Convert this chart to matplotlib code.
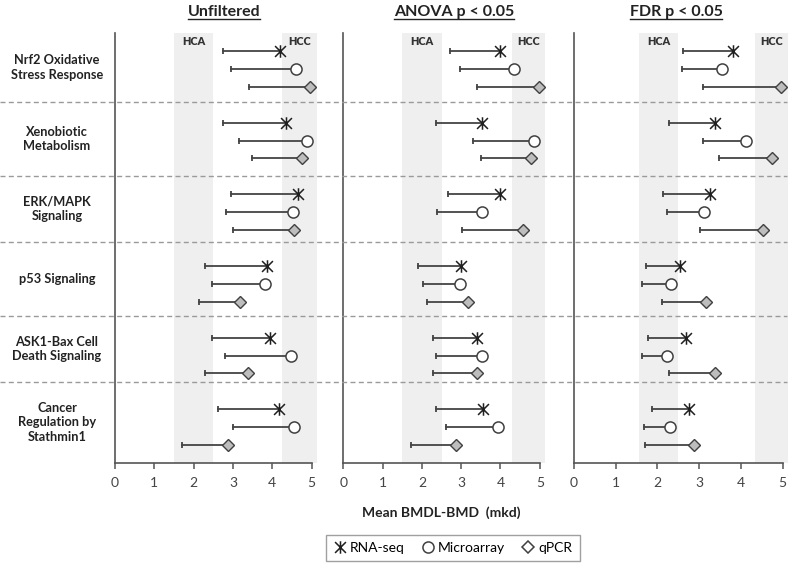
import matplotlib
matplotlib.use('Agg')
import matplotlib.pyplot as plt
import matplotlib.transforms as mtransforms
from matplotlib.lines import Line2D
from matplotlib.path import Path

plt.rcParams['font.family'] = ['Lato', 'DejaVu Sans']

pathways = ['Nrf2 Oxidative\nStress Response', 'Xenobiotic\nMetabolism', 'ERK/MAPK\nSignaling',
            'p53 Signaling', 'ASK1-Bax Cell\nDeath Signaling', 'Cancer\nRegulation by\nStathmin1']
panels = ['Unfiltered', 'ANOVA p < 0.05', 'FDR p < 0.05']
platforms = ['RNA-seq', 'Microarray', 'qPCR']
xticks = [0, 1, 2, 3, 4, 5]

# mean BMDL (start of line), rows = pathways, cols = RNA-seq, Microarray, qPCR
unf_bmdl = [[2.74, 2.95, 3.41], [2.75, 3.16, 3.49], [2.95, 2.82, 3.00],
            [2.29, 2.47, 2.13], [2.47, 2.80, 2.29], [2.63, 2.99, 1.71]]
unf_bmd = [[4.20, 4.60, 4.96], [4.35, 4.88, 4.76], [4.66, 4.53, 4.54],
           [3.86, 3.82, 3.18], [3.93, 4.47, 3.39], [4.18, 4.56, 2.88]]
anova_bmdl = [[2.72, 2.96, 3.41], [2.35, 3.31, 3.50], [2.66, 2.38, 3.02],
              [1.89, 2.02, 2.14], [2.29, 2.36, 2.29], [2.36, 2.61, 1.71]]
anova_bmd = [[3.99, 4.34, 4.98], [3.53, 4.85, 4.77], [3.99, 3.53, 4.56],
             [3.00, 2.98, 3.18], [3.39, 3.52, 3.39], [3.56, 3.94, 2.88]]
fdr_bmdl = [[2.61, 2.58, 3.09], [2.29, 3.09, 3.47], [2.13, 2.23, 3.02],
            [1.73, 1.64, 2.11], [1.78, 1.64, 2.29], [1.87, 1.69, 1.71]]
fdr_bmd = [[3.81, 3.55, 4.96], [3.38, 4.12, 4.76], [3.25, 3.12, 4.54],
           [2.53, 2.33, 3.17], [2.69, 2.24, 3.39], [2.76, 2.30, 2.88]]

hca_band = [[1.5, 2.5], [1.5, 2.5], [1.55, 2.5]]
hcc_band = [[4.25, 5.13], [4.28, 5.13], [4.34, 5.13]]

bmdl_all = [unf_bmdl, anova_bmdl, fdr_bmdl]
bmd_all = [unf_bmd, anova_bmd, fdr_bmd]

W, H = 794, 564
fig = plt.figure(figsize=(W / 100, H / 100), dpi=100)

# axes in pixels: left, px per unit
ax_left = [114.7, 343.3, 574.0]
ax_scale = [39.4, 39.3, 41.7]
xmax = 5.15
top_px, bot_px = 33, 463
title_x = [224, 454, 676]

star = Path([(-1, -1), (1, 1), (-1, 1), (1, -1), (0, -1.15), (0, 1.15)],
            [Path.MOVETO, Path.LINETO, Path.MOVETO, Path.LINETO, Path.MOVETO, Path.LINETO])
mk = [dict(marker=star, ms=9, mec='#202020', mfc='none', mew=1.1),
      dict(marker='o', ms=8, mec='#404040', mfc='white', mew=1.1),
      dict(marker='D', ms=6, mec='#404040', mfc='#bdbdbd', mew=1.0)]

dark = '#444444'
axes = []
for p in range(3):
    w = xmax * ax_scale[p]
    ax = fig.add_axes([ax_left[p] / W, 1 - bot_px / H, w / W, (bot_px - top_px) / H])
    axes.append(ax)
    ax.set_xlim(0, xmax)
    ax.set_ylim(23, -1)
    ax.axvspan(*hca_band[p], color='#efefef', lw=0, zorder=0)
    ax.axvspan(*hcc_band[p], color='#efefef', lw=0, zorder=0)
    ax.text(sum(hca_band[p]) / 2, -0.55, 'HCA', ha='center', va='center', fontsize=7.8, fontweight='heavy', color='#333333')
    ax.text(sum(hcc_band[p]) / 2, -0.55, 'HCC', ha='center', va='center', fontsize=7.8, fontweight='heavy', color='#333333')
    for g in range(6):
        for k in range(3):
            y = g * 4 + k
            lo = bmdl_all[p][g][k]
            hi = bmd_all[p][g][k]
            ax.plot([lo, hi], [y, y], color=dark, lw=1.3, zorder=2)
            ax.plot([lo], [y], marker='|', ms=5, mew=1.3, color=dark, zorder=2)
            ax.plot([hi], [y], zorder=3, **mk[k])
    for s in ['top', 'right']:
        ax.spines[s].set_visible(False)
    ax.spines['left'].set_color('#555555')
    ax.spines['left'].set_linewidth(1.2)
    ax.spines['bottom'].set_color('#555555')
    ax.spines['bottom'].set_linewidth(1.2)
    ax.spines['bottom'].set_bounds(0, 5)
    ax.set_yticks([])
    ax.set_xticks(xticks)
    ax.tick_params(axis='x', direction='out', length=4, width=1.1, color='#555555',
                   labelsize=10, labelcolor='#444444', pad=6)
    fig.text(title_x[p] / W, 1 - 12 / H, panels[p], ha='center', va='center',
             fontsize=11.5, fontweight='bold', color='#222222')

# dashed separators across the whole figure
seps = [2.85, 6.96, 10.68, 14.79, 18.46]
tr = mtransforms.blended_transform_factory(fig.transFigure, axes[0].transData)
for s in seps:
    fig.add_artist(Line2D([0, 787 / W], [s, s], transform=tr, color='#9a9a9a', lw=1.0,
                          ls=(0, (3.6, 2.4)), zorder=5))

# pathway labels centred between separators
bounds = [-1] + seps + [23]
for g in range(6):
    yc = (bounds[g] + bounds[g + 1]) / 2
    fig.text(57 / W, yc, pathways[g], transform=tr, ha='center', va='center',
             fontsize=9.2, fontweight='bold', color='#222222', linespacing=1.25)

fig.text(441 / W, 1 - 513 / H, 'Mean BMDL-BMD  (mkd)', ha='center', va='center',
         fontsize=10, fontweight='bold', color='#222222')

handles = [Line2D([], [], ls='none', marker=star, ms=9, mec='#202020', mfc='none', mew=1.1),
           Line2D([], [], ls='none', marker='o', ms=8, mec='#404040', mfc='white', mew=1.1),
           Line2D([], [], ls='none', marker='D', ms=6, mec='#404040', mfc='white', mew=1.1)]
leg = fig.legend(handles, platforms, loc='center', bbox_to_anchor=(453 / W, 1 - 548 / H),
                 ncol=3, frameon=True, fancybox=False, edgecolor='#888888', fontsize=10,
                 handlelength=0.9, handletextpad=0.3, columnspacing=1.2, borderpad=0.5)
leg.get_frame().set_linewidth(1.0)

# underline the panel titles
fig.canvas.draw()
r = fig.canvas.get_renderer()
for t in fig.texts[:3]:
    bb = t.get_window_extent(r)
    fig.add_artist(Line2D([bb.x0 / W, bb.x1 / W], [(bb.y0 + 0.5) / H, (bb.y0 + 0.5) / H],
                          transform=fig.transFigure, color='#222222', lw=1.0))

fig.savefig('out.png', dpi=100)
